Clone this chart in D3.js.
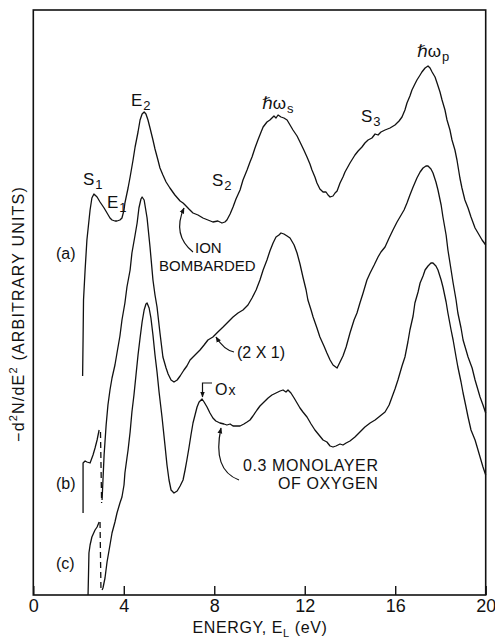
<!DOCTYPE html>
<html>
<head>
<meta charset="utf-8">
<script src="https://cdn.jsdelivr.net/npm/d3@7"></script>
<style>
  body { margin: 0; background: #fff; }
  text { font-family: "Liberation Sans", Arial, "DejaVu Sans", sans-serif; fill: #111; }
</style>
</head>
<body>
<script>
// energy loss spectra (E in eV, -d2N/dE2 in arb. units)
const energyTicks = [0, 4, 8, 12, 16, 20];

const curveA = [
  [2.18,21.9],[2.20,25.5],[2.22,29.5],[2.29,32.5],[2.37,35.5],[2.51,38.5],[2.59,39.7],[2.68,40.1],
  [2.82,39.8],[2.95,39.3],[3.13,38.7],[3.26,38.2],[3.39,37.7],[3.48,37.5],[3.61,37.4],[3.70,37.4],
  [3.83,37.5],[3.92,37.7],[4.01,38.5],[4.05,39.2],[4.19,40.7],[4.28,41.8],[4.41,43.5],[4.50,44.8],
  [4.63,46.3],[4.72,47.5],[4.81,48.1],[4.90,48.3],[4.98,48.1],[5.07,47.5],[5.16,46.7],[5.29,45.5],
  [5.38,44.6],[5.51,43.5],[5.60,42.7],[5.73,42.0],[5.87,41.3],[6.04,40.7],[6.26,40.0],[6.49,39.4],
  [6.62,39.2],[6.71,39.0],[6.88,38.6],[7.06,38.2],[7.28,38.0],[7.50,37.7],[7.72,37.5],[7.94,37.3],
  [8.16,37.4],[8.34,37.2],[8.47,37.3],[8.56,37.5],[8.70,38.1],[8.83,38.8],[8.96,39.6],[9.14,40.5],
  [9.27,41.5],[9.45,42.5],[9.58,43.3],[9.67,43.8],[9.80,44.7],[9.93,45.5],[10.07,46.3],[10.16,46.8],
  [10.33,47.3],[10.46,47.5],[10.64,47.9],[10.73,47.7],[10.82,48.0],[10.95,47.8],[11.08,47.7],[11.22,47.5],
  [11.35,47.0],[11.48,46.5],[11.66,45.9],[11.79,45.3],[11.96,44.5],[12.10,43.8],[12.23,43.1],[12.32,42.5],
  [12.45,41.8],[12.54,41.2],[12.67,40.6],[12.81,40.3],[12.94,40.3],[13.03,40.0],[13.12,39.8],[13.25,39.9],
  [13.34,40.2],[13.43,40.4],[13.56,41.2],[13.69,41.8],[13.78,42.3],[14.00,43.2],[14.22,44.0],[14.36,44.4],
  [14.53,44.8],[14.66,45.2],[14.80,45.5],[14.97,45.7],[15.11,46.1],[15.24,46.0],[15.37,46.3],[15.55,46.5],
  [15.77,46.7],[15.99,47.0],[16.17,47.4],[16.30,47.8],[16.43,48.5],[16.52,49.2],[16.65,49.9],[16.74,50.5],
  [16.87,51.1],[16.96,51.5],[17.10,52.0],[17.18,52.3],[17.32,52.7],[17.45,52.9],[17.54,52.7],[17.63,52.3],
  [17.76,51.8],[17.85,51.2],[17.98,50.3],[18.07,49.5],[18.20,48.5],[18.29,47.5],[18.42,46.5],[18.51,45.5],
  [18.64,44.5],[18.73,43.5],[18.86,41.7],[18.95,40.7],[19.08,39.5],[19.22,38.7],[19.35,37.8],[19.53,36.7],
  [19.66,36.2],[19.84,35.5],[20.0,35.0]
];

const curveBStub = [
  [2.20,8.2],[2.20,13.2],[2.29,13.4],[2.37,13.3],[2.51,13.2],[2.64,14.0],[2.73,14.7],[2.82,15.5],[2.91,16.5]
];
const curveBJump = [[2.97,16.3],[3.02,9.2]];
const curveB = [
  [3.04,9.5],[3.08,11.5],[3.13,14.0],[3.22,17.0],[3.30,19.0],[3.39,20.5],[3.48,21.7],[3.61,23.0],
  [3.70,24.2],[3.83,25.9],[3.92,27.5],[4.05,29.2],[4.14,30.8],[4.28,32.5],[4.36,34.2],[4.50,36.0],
  [4.59,37.2],[4.67,38.7],[4.76,39.6],[4.81,39.8],[4.90,39.5],[5.03,37.7],[5.16,34.8],[5.29,31.5],
  [5.38,30.0],[5.47,28.8],[5.60,26.2],[5.73,23.8],[5.87,22.7],[5.96,22.1],[6.09,21.5],[6.22,21.3],
  [6.36,21.5],[6.49,21.9],[6.66,22.5],[6.79,22.9],[6.93,23.5],[7.15,24.0],[7.37,24.5],[7.55,25.0],
  [7.72,25.5],[7.94,25.8],[8.16,26.3],[8.39,26.8],[8.61,27.3],[8.83,27.8],[9.05,28.2],[9.27,28.5],
  [9.49,29.0],[9.67,29.7],[9.85,30.5],[10.02,31.5],[10.16,32.5],[10.33,33.5],[10.46,34.4],[10.60,35.2],
  [10.73,35.8],[10.86,36.0],[10.95,36.2],[11.08,36.1],[11.22,35.9],[11.35,35.7],[11.53,35.0],[11.66,34.2],
  [11.79,33.1],[11.92,31.8],[12.06,30.5],[12.14,29.5],[12.28,28.5],[12.37,27.8],[12.54,26.7],[12.67,25.8],
  [12.85,24.9],[12.98,24.2],[13.12,23.5],[13.25,23.0],[13.43,22.7],[13.56,23.3],[13.69,23.9],[13.83,24.8],
  [14.00,26.2],[14.18,27.5],[14.31,28.2],[14.44,29.2],[14.58,30.2],[14.75,31.5],[14.89,32.2],[15.07,33.0],
  [15.24,33.8],[15.37,34.3],[15.55,34.8],[15.73,35.7],[15.90,36.5],[16.08,37.3],[16.21,37.8],[16.39,38.5],
  [16.52,39.2],[16.65,40.0],[16.79,40.8],[16.96,41.7],[17.10,42.3],[17.23,42.7],[17.36,42.9],[17.45,42.9],
  [17.58,42.6],[17.67,42.2],[17.80,41.3],[17.89,40.5],[18.03,39.0],[18.11,37.8],[18.25,36.0],[18.33,34.5],
  [18.47,32.5],[18.56,31.2],[18.69,29.5],[18.77,28.2],[18.91,26.7],[19.00,25.5],[19.13,24.5],[19.22,23.8],
  [19.40,22.7],[19.53,21.5],[19.66,20.5],[19.75,19.8],[19.88,19.0],[20.0,18.2]
];

const curveCStub = [
  [2.42,0.0],[2.44,2.0],[2.46,4.2],[2.51,5.0],[2.59,5.8],[2.73,6.5],[2.82,6.8],[2.91,7.3]
];
const curveCJump = [[2.95,7.3],[2.99,0.7]];
const curveC = [
  [3.04,0.5],[3.08,0.7],[3.17,1.7],[3.26,3.3],[3.39,5.0],[3.48,6.2],[3.61,7.3],[3.70,8.2],
  [3.83,9.2],[3.92,9.8],[4.01,11.0],[4.05,12.2],[4.14,13.7],[4.19,14.5],[4.28,16.3],[4.36,18.3],
  [4.45,20.0],[4.54,22.0],[4.63,24.0],[4.72,25.7],[4.81,27.3],[4.90,28.5],[4.98,29.1],[5.03,29.2],
  [5.12,28.7],[5.20,27.7],[5.29,26.0],[5.38,24.0],[5.47,22.3],[5.56,20.3],[5.69,17.8],[5.82,15.0],
  [5.91,13.0],[6.00,11.5],[6.09,10.5],[6.22,10.2],[6.36,10.4],[6.49,10.9],[6.62,11.5],[6.71,12.5],
  [6.79,13.5],[6.88,14.7],[6.97,16.0],[7.06,17.2],[7.15,18.0],[7.24,18.8],[7.33,19.3],[7.46,19.6],
  [7.55,19.3],[7.68,18.8],[7.81,18.2],[7.94,17.7],[8.07,17.4],[8.25,17.2],[8.43,17.1],[8.56,17.0],
  [8.70,17.1],[8.83,16.9],[9.00,16.9],[9.14,16.9],[9.31,17.1],[9.45,17.3],[9.58,17.5],[9.71,17.9],
  [9.89,18.5],[10.02,18.9],[10.20,19.3],[10.38,19.7],[10.55,20.0],[10.73,20.2],[10.91,20.4],[11.04,20.5],
  [11.17,20.3],[11.26,20.5],[11.39,20.2],[11.53,19.7],[11.66,19.2],[11.79,18.7],[11.92,18.3],[12.10,17.8],
  [12.28,17.1],[12.45,16.5],[12.63,16.0],[12.81,15.5],[12.98,15.3],[13.12,14.9],[13.25,14.8],[13.38,14.9],
  [13.56,15.1],[13.69,15.0],[13.83,15.2],[14.00,15.4],[14.22,15.8],[14.44,16.3],[14.66,16.8],[14.89,17.2],
  [15.11,17.5],[15.33,17.9],[15.55,18.3],[15.73,19.0],[15.86,19.8],[15.99,20.6],[16.12,21.5],[16.30,22.9],
  [16.43,23.8],[16.56,25.3],[16.65,26.5],[16.79,27.9],[16.87,29.2],[17.01,30.3],[17.10,31.2],[17.23,31.9],
  [17.32,32.5],[17.45,32.9],[17.58,33.2],[17.67,33.2],[17.80,32.9],[17.89,32.5],[18.03,31.5],[18.11,30.8],
  [18.25,29.3],[18.33,28.2],[18.47,26.5],[18.56,25.5],[18.69,23.8],[18.77,22.8],[18.91,21.3],[19.00,20.2],
  [19.13,18.8],[19.22,17.8],[19.35,16.5],[19.53,15.5],[19.66,14.5],[19.75,13.8],[19.88,12.8],[20.0,12.0]
];

const width = 495;
const height = 638;
const plotLeft = 33.3, plotRight = 485.7, plotTop = 10, plotBottom = 595;

let svg = d3.select('body')
  .append('svg')
  .attr('width', width)
  .attr('height', height);

let x = d3.scaleLinear().domain([0, 20]).range([plotLeft, plotRight]);
let y = d3.scaleLinear().domain([0, 58.5]).range([plotBottom, plotTop]);

let line = d3.line()
  .x(d => x(d[0]))
  .y(d => y(d[1]));

svg.append('defs').append('marker')
  .attr('id', 'tip')
  .attr('viewBox', '0 0 10 10')
  .attr('refX', 9).attr('refY', 5)
  .attr('markerWidth', 6).attr('markerHeight', 6)
  .attr('markerUnits', 'userSpaceOnUse')
  .attr('orient', 'auto')
  .append('path')
  .attr('d', 'M0,1 L10,5 L0,9 Z')
  .attr('fill', '#111');

// frame
svg.append('rect')
  .attr('x', plotLeft).attr('y', plotTop)
  .attr('width', plotRight - plotLeft).attr('height', plotBottom - plotTop)
  .attr('fill', 'none')
  .attr('stroke', '#111')
  .attr('stroke-width', 1.6);

// bottom axis, ticks pointing in
let axis = svg.append('g')
  .attr('transform', `translate(0,${plotBottom})`)
  .call(d3.axisBottom(x).tickValues(energyTicks).tickSizeInner(-9).tickSizeOuter(0).tickPadding(4));
axis.select('.domain').remove();
axis.selectAll('line').attr('stroke', '#111').attr('stroke-width', 1.4);
axis.selectAll('text')
  .style('font-family', '"Liberation Sans", Arial, sans-serif')
  .attr('font-size', 18)
  .attr('fill', '#111');

// spectra
let curves = [curveA, curveBStub, curveB, curveCStub, curveC];
svg.selectAll('path.spec')
  .data(curves)
  .enter()
  .append('path')
  .attr('class', 'spec')
  .attr('d', line)
  .attr('fill', 'none')
  .attr('stroke', '#111')
  .attr('stroke-width', 1.3)
  .attr('stroke-linejoin', 'round');

svg.selectAll('path.jump')
  .data([curveBJump, curveCJump])
  .enter()
  .append('path')
  .attr('class', 'jump')
  .attr('d', line)
  .attr('fill', 'none')
  .attr('stroke', '#111')
  .attr('stroke-width', 1.3)
  .attr('stroke-dasharray', '6,4');

// axis titles
let xt = svg.append('text')
  .attr('x', 260).attr('y', 633)
  .attr('text-anchor', 'middle')
  .attr('font-size', 16)
  .attr('letter-spacing', 0.6);
xt.append('tspan').text('ENERGY, E');
xt.append('tspan').attr('font-size', 11).attr('dy', 4).text('L');
xt.append('tspan').attr('dy', -4).text(' (eV)');

let yt = svg.append('text')
  .attr('transform', 'translate(24,314) rotate(-90)')
  .attr('text-anchor', 'middle')
  .attr('font-size', 16)
  .attr('letter-spacing', 1.2);
yt.append('tspan').text('\u2212d');
yt.append('tspan').attr('font-size', 11).attr('dy', -7).text('2');
yt.append('tspan').attr('dy', 7).text('N/dE');
yt.append('tspan').attr('font-size', 11).attr('dy', -7).text('2');
yt.append('tspan').attr('dy', 7).text(' (ARBITRARY UNITS)');

// peak labels with subscripts
let peakLabels = [
  {main: 'S', sub: '1', px: 83, py: 185},
  {main: 'E', sub: '1', px: 107, py: 208},
  {main: 'E', sub: '2', px: 131, py: 106},
  {main: 'S', sub: '2', px: 212, py: 186},
  {main: 'ℏω', sub: 's', px: 262, py: 109},
  {main: 'S', sub: '3', px: 361, py: 122},
  {main: 'ℏω', sub: 'p', px: 417, py: 57}
];
peakLabels.forEach(function(d){
  let t = svg.append('text')
    .attr('x', d.px).attr('y', d.py)
    .attr('font-size', 17);
  t.append('tspan').text(d.main);
  t.append('tspan').attr('font-size', 13).attr('dx', 1).attr('dy', 4).text(d.sub);
});

// curve letters
[['(a)', 259], ['(b)', 489], ['(c)', 569]].forEach(function(d){
  svg.append('text')
    .attr('x', 56).attr('y', d[1])
    .attr('font-size', 16)
    .text(d[0]);
});

// annotations
svg.append('text').attr('x', 195).attr('y', 253).attr('font-size', 15).text('ION');
svg.append('text').attr('x', 159).attr('y', 271).attr('font-size', 15).text('BOMBARDED');
svg.append('path')
  .attr('d', 'M193,252 Q172,235 184,208')
  .attr('fill', 'none').attr('stroke', '#111').attr('stroke-width', 1.2)
  .attr('marker-end', 'url(#tip)');

svg.append('text').attr('x', 237).attr('y', 358).attr('font-size', 16).text('(2 X 1)');
svg.append('path')
  .attr('d', 'M234,352 Q224,350 216,337')
  .attr('fill', 'none').attr('stroke', '#111').attr('stroke-width', 1.2)
  .attr('marker-end', 'url(#tip)');

svg.append('path')
  .attr('d', 'M212,383 L202.5,383 L202.5,397')
  .attr('fill', 'none').attr('stroke', '#111').attr('stroke-width', 1.2)
  .attr('marker-end', 'url(#tip)');
let ox = svg.append('text').attr('x', 215).attr('y', 395).attr('font-size', 16);
ox.append('tspan').text('O');
ox.append('tspan').attr('font-size', 14).attr('dx', 1).text('x');

svg.append('text').attr('x', 243).attr('y', 471).attr('font-size', 16).attr('letter-spacing', 0.6).text('0.3 MONOLAYER');
svg.append('text').attr('x', 278).attr('y', 489).attr('font-size', 16).attr('letter-spacing', 0.6).text('OF OXYGEN');
svg.append('path')
  .attr('d', 'M239,480 Q212,470 221,428')
  .attr('fill', 'none').attr('stroke', '#111').attr('stroke-width', 1.2)
  .attr('marker-end', 'url(#tip)');
</script>
</body>
</html>
